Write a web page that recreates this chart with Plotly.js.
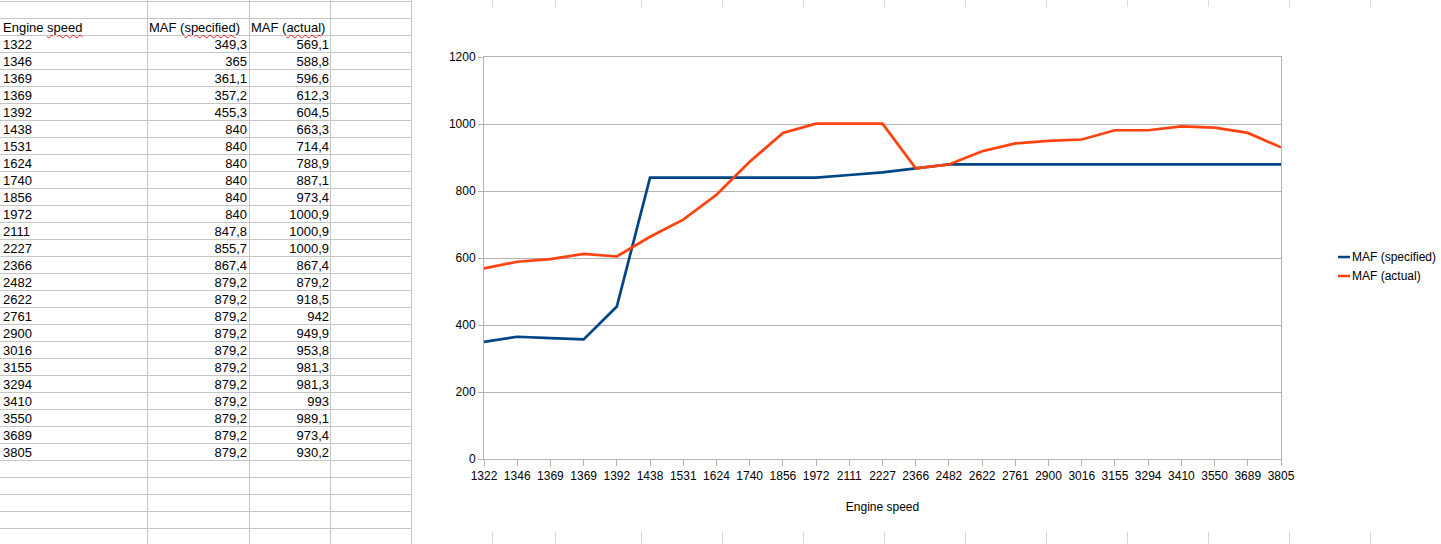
<!DOCTYPE html>
<html>
<head>
<meta charset="utf-8">
<script src="https://cdn.plot.ly/plotly-3.0.1.min.js"></script>
<style>
  html, body { margin: 0; padding: 0; background: #fff; width: 1441px; height: 544px; overflow: hidden; }
  body { position: relative; font-family: "Liberation Sans", Arial, sans-serif; }
  .hl { position: absolute; left: 0; width: 411px; height: 1px; background: #c6c6c6; }
  .vl { position: absolute; top: 0; width: 1px; height: 544px; background: #c6c6c6; }
  .vl.light { background: #d6d6d6; }
  .cell { position: absolute; height: 17px; line-height: 17px; font-size: 13px; color: #000; white-space: nowrap; }
  .cell.r { text-align: right; }
  .sp { text-decoration: underline wavy #e02020; text-decoration-thickness: 1px; text-underline-offset: 2px; }
  #chartbox { position: absolute; left: 412px; top: 7px; width: 1029px; height: 525px; background: #fff; }
  #chart { position: absolute; left: 412px; top: 7px; width: 1029px; height: 525px; }
</style>
</head>
<body>
<div id="sheet"></div>
<div id="chartbox"></div>
<div id="chart"></div>
<script>
// ---- data ----
var engineSpeed = ["1322","1346","1369","1369","1392","1438","1531","1624","1740","1856","1972","2111","2227","2366","2482","2622","2761","2900","3016","3155","3294","3410","3550","3689","3805"];
var mafSpecified = [349.3,365,361.1,357.2,455.3,840,840,840,840,840,840,847.8,855.7,867.4,879.2,879.2,879.2,879.2,879.2,879.2,879.2,879.2,879.2,879.2,879.2];
var mafActual = [569.1,588.8,596.6,612.3,604.5,663.3,714.4,788.9,887.1,973.4,1000.9,1000.9,1000.9,867.4,879.2,918.5,942,949.9,953.8,981.3,981.3,993,989.1,973.4,930.2];
var seriesNames = ["MAF (specified)", "MAF (actual)"];
var headerA = "Engine speed";
var xTitle = "Engine speed";
var yTicks = [0, 200, 400, 600, 800, 1000, 1200];
var colors = ["#004586", "#ff420e"];

// ---- spreadsheet grid ----
var sheet = document.getElementById('sheet');
function add(cls, style, html) {
  var d = document.createElement('div');
  d.className = cls;
  d.setAttribute('style', style);
  if (html !== undefined) d.innerHTML = html;
  sheet.appendChild(d);
  return d;
}
for (var y = 1; y < 544; y += 17) add('hl', 'top:' + y + 'px');
[147, 249, 330, 411].forEach(function (x) { add('vl', 'left:' + x + 'px'); });
[492, 555, 641, 722, 803, 884, 965, 1046, 1127, 1208, 1289, 1370].forEach(function (x) { add('vl light', 'left:' + x + 'px'); });

function fmt(v) { return String(v).replace('.', ','); }
function spell(s) {
  return s.replace(/(speed|specified|actual)/g, '<span class="sp">$1</span>');
}
var hdrTop = 18;
add('cell', 'left:3px;top:' + (hdrTop + 1) + 'px;', spell(headerA));
add('cell', 'left:149px;top:' + (hdrTop + 1) + 'px;', spell(seriesNames[0]));
add('cell', 'left:251px;top:' + (hdrTop + 1) + 'px;', spell(seriesNames[1]));
for (var i = 0; i < engineSpeed.length; i++) {
  var t = hdrTop + 17 * (i + 1) + 1;
  add('cell', 'left:3px;top:' + t + 'px;', engineSpeed[i]);
  add('cell r', 'left:149px;width:98px;top:' + t + 'px;', fmt(mafSpecified[i]));
  add('cell r', 'left:251px;width:78px;top:' + t + 'px;', fmt(mafActual[i]));
}

// ---- chart ----
var idx = engineSpeed.map(function (_, i) { return i; });
var series = [mafSpecified, mafActual];
var traces = series.map(function (vals, k) {
  return {
    type: 'scatter', mode: 'lines', x: idx, y: vals, name: seriesNames[k],
    line: { color: colors[k], width: 2.7 }, showlegend: false, hoverinfo: 'skip'
  };
});

var L = 72, R = 160, T = 50, B = 73, W = 1029, H = 525;
var pw = W - L - R, ph = H - T - B;
var shapes = [], annotations = [];
var legY = [257 - 7, 276 - 7];
seriesNames.forEach(function (n, k) {
  var yp = 1 - (legY[k] - T) / ph;
  shapes.push({ type: 'line', xref: 'paper', yref: 'paper',
    x0: (926 - L) / pw, x1: (938 - L) / pw, y0: yp, y1: yp,
    line: { color: colors[k], width: 2.5 } });
  annotations.push({ xref: 'paper', yref: 'paper', x: (938 - L) / pw, y: yp,
    xanchor: 'left', yanchor: 'middle', showarrow: false, text: n,
    font: { family: 'Liberation Sans, Arial, sans-serif', size: 12, color: '#000' } });
});

var layout = {
  width: W, height: H,
  margin: { l: L, r: R, t: T, b: B, pad: 0 },
  paper_bgcolor: '#ffffff', plot_bgcolor: '#ffffff',
  font: { family: 'Liberation Sans, Arial, sans-serif', size: 12, color: '#000' },
  xaxis: {
    range: [0, engineSpeed.length - 1], tickmode: 'array', tickvals: idx, ticktext: engineSpeed,
    ticks: 'outside', ticklen: 6, tickcolor: '#b3b3b3', tickwidth: 1,
    showline: true, linecolor: '#b3b3b3', linewidth: 1, mirror: true,
    showgrid: false, zeroline: false, tickangle: 0,
    title: { text: xTitle, standoff: 20, font: { size: 12 } }
  },
  yaxis: {
    range: [0, 1200], tickmode: 'array', tickvals: yTicks,
    ticks: 'outside', ticklen: 5, tickcolor: '#b3b3b3', tickwidth: 1,
    showline: true, linecolor: '#b3b3b3', linewidth: 1, mirror: true,
    showgrid: true, gridcolor: '#b3b3b3', gridwidth: 1, zeroline: false
  },
  shapes: shapes, annotations: annotations, showlegend: false
};
Plotly.newPlot('chart', traces, layout, { staticPlot: true, displayModeBar: false });
</script>
</body>
</html>
